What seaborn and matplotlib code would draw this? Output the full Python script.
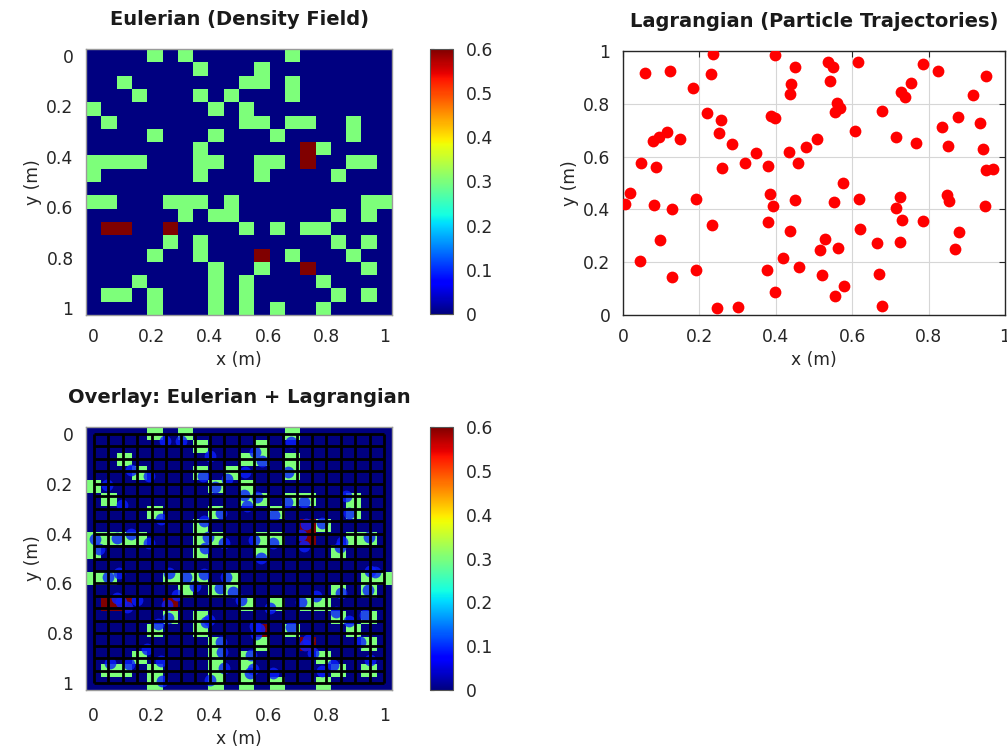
import numpy as np
import pandas as pd
import matplotlib
matplotlib.use("Agg")
import matplotlib.pyplot as plt
import seaborn as sns

# ---------------- data ----------------
# Eulerian density field (20 x 20 cells, rows = y from 0 (top) to 1, cols = x from 0 to 1)
density_rows = [
    [0, 0, 0, 0, .3, 0, .3, 0, 0, 0, 0, 0, 0, .3, 0, 0, 0, 0, 0, 0],
    [0, 0, 0, 0, 0, 0, 0, .3, 0, 0, 0, .3, 0, 0, 0, 0, 0, 0, 0, 0],
    [0, 0, .3, 0, 0, 0, 0, 0, 0, 0, .3, .3, 0, .3, 0, 0, 0, 0, 0, 0],
    [0, 0, 0, .3, 0, 0, 0, .3, 0, .3, 0, 0, 0, .3, 0, 0, 0, 0, 0, 0],
    [.3, 0, 0, 0, 0, 0, 0, 0, .3, 0, .3, 0, 0, 0, 0, 0, 0, 0, 0, 0],
    [0, .3, 0, 0, 0, 0, 0, 0, 0, 0, .3, .3, 0, .3, .3, 0, 0, .3, 0, 0],
    [0, 0, 0, 0, .3, 0, 0, 0, .3, 0, 0, 0, .3, 0, 0, 0, 0, .3, 0, 0],
    [0, 0, 0, 0, 0, 0, 0, .3, 0, 0, 0, 0, 0, 0, .6, .3, 0, 0, 0, 0],
    [.3, .3, .3, .3, 0, 0, 0, .3, .3, 0, 0, .3, .3, 0, .6, 0, 0, .3, .3, 0],
    [.3, 0, 0, 0, 0, 0, 0, .3, 0, 0, 0, .3, 0, 0, 0, 0, .3, 0, 0, 0],
    [0, 0, 0, 0, 0, 0, 0, 0, 0, 0, 0, 0, 0, 0, 0, 0, 0, 0, 0, 0],
    [.3, .3, 0, 0, 0, .3, .3, .3, 0, .3, 0, 0, 0, 0, 0, 0, 0, 0, .3, .3],
    [0, 0, 0, 0, 0, 0, .3, 0, .3, .3, 0, 0, 0, 0, 0, 0, .3, 0, .3, 0],
    [0, .6, .6, 0, 0, .6, 0, 0, 0, 0, .3, 0, .3, 0, .3, .3, 0, 0, 0, 0],
    [0, 0, 0, 0, 0, .3, 0, .3, 0, 0, 0, 0, 0, 0, 0, 0, .3, 0, .3, 0],
    [0, 0, 0, 0, .3, 0, 0, .3, 0, 0, 0, .6, 0, .3, 0, 0, 0, .3, 0, 0],
    [0, 0, 0, 0, 0, 0, 0, 0, .3, 0, 0, .3, 0, 0, .6, 0, 0, 0, .3, 0],
    [0, 0, 0, .3, 0, 0, 0, 0, .3, 0, .3, 0, 0, 0, 0, .3, 0, 0, 0, 0],
    [0, .3, .3, 0, .3, 0, 0, 0, .3, 0, .3, 0, 0, 0, 0, 0, .3, 0, .3, 0],
    [0, 0, 0, 0, .3, 0, 0, 0, .3, 0, .3, 0, .3, 0, 0, .3, 0, 0, 0, 0],
]

# Lagrangian particle positions (m)
particle_x = [0.236, 0.399, 0.057, 0.122, 0.230, 0.183, 0.450, 0.441, 0.437, 0.537,
              0.549, 0.616, 0.541, 0.559, 0.568, 0.555, 0.679, 0.786, 0.825, 0.949,
              0.755, 0.728, 0.738, 0.917, 0.221, 0.256, 0.387, 0.397, 0.251, 0.286,
              0.114, 0.094, 0.079, 0.148, 0.607, 0.714, 0.766, 0.878, 0.834, 0.934,
              0.850, 0.943, 0.347, 0.434, 0.480, 0.507, 0.457, 0.048, 0.087, 0.258,
              0.319, 0.380, 0.950, 0.968, 0.575, 0.019, 0.004, 0.081, 0.128, 0.190,
              0.384, 0.393, 0.450, 0.552, 0.618, 0.725, 0.714, 0.731, 0.786, 0.847,
              0.854, 0.948, 0.233, 0.380, 0.437, 0.620, 0.528, 0.517, 0.563, 0.666,
              0.725, 0.880, 0.869, 0.098, 0.045, 0.127, 0.192, 0.377, 0.419, 0.460,
              0.521, 0.399, 0.579, 0.555, 0.670, 0.245, 0.301, 0.679]
particle_y = [0.989, 0.985, 0.918, 0.924, 0.912, 0.861, 0.938, 0.874, 0.836, 0.960,
              0.941, 0.960, 0.888, 0.804, 0.783, 0.770, 0.773, 0.949, 0.926, 0.905,
              0.880, 0.846, 0.827, 0.833, 0.764, 0.739, 0.755, 0.747, 0.688, 0.648,
              0.694, 0.676, 0.660, 0.667, 0.698, 0.676, 0.650, 0.749, 0.713, 0.726,
              0.640, 0.628, 0.612, 0.619, 0.635, 0.665, 0.574, 0.574, 0.559, 0.558,
              0.574, 0.564, 0.549, 0.553, 0.499, 0.461, 0.420, 0.417, 0.402, 0.438,
              0.457, 0.414, 0.436, 0.427, 0.438, 0.448, 0.407, 0.360, 0.356, 0.455,
              0.433, 0.414, 0.341, 0.351, 0.319, 0.326, 0.288, 0.246, 0.253, 0.274,
              0.275, 0.316, 0.250, 0.284, 0.206, 0.145, 0.170, 0.170, 0.215, 0.181,
              0.152, 0.088, 0.110, 0.072, 0.154, 0.028, 0.029, 0.034]

axis_ticks = [0, 0.2, 0.4, 0.6, 0.8, 1]
axis_tick_labels = ["0", "0.2", "0.4", "0.6", "0.8", "1"]
cbar_ticks = [0, 0.1, 0.2, 0.3, 0.4, 0.5, 0.6]
cbar_tick_labels = ["0", "0.1", "0.2", "0.3", "0.4", "0.5", "0.6"]
grid_lines = [0, 0.05, 0.1, 0.15, 0.2, 0.25, 0.3, 0.35, 0.4, 0.45, 0.5,
              0.55, 0.6, 0.65, 0.7, 0.75, 0.8, 0.85, 0.9, 0.95, 1.0]

# ---------------- styling ----------------
sns.set_theme(style="white")
plt.rcParams["font.family"] = ["DejaVu Sans"]
TICK_FS = 12.3
TITLE_FS = 14
TXT = "#262626"

density = pd.DataFrame(density_rows)
ncell = density.shape[0]
span = ncell - 1


def to_cell(v):
    """map physical coordinate (0..1) to heatmap cell coordinate."""
    return np.asarray(v) * span + 0.5


fig = plt.figure(figsize=(10.07, 7.51), dpi=100)
W, H = 1007, 751


def box(l, t, r, b):
    return [l / W, 1 - b / H, (r - l) / W, (b - t) / H]


ax1 = fig.add_axes(box(86, 49, 392, 315))
cax1 = fig.add_axes(box(430, 49, 453, 314))
ax2 = fig.add_axes(box(623, 51, 1005, 315))
ax3 = fig.add_axes(box(86, 427, 392, 690))
cax2 = fig.add_axes(box(430, 427, 453, 690))


def style_heat(ax, cax, title, xpad=9):
    for s in ax.spines.values():
        s.set_visible(True)
        s.set_color("#9a9a9a")
        s.set_linewidth(1.0)
    ax.set_xticks(to_cell(axis_ticks))
    ax.set_xticklabels(axis_tick_labels, rotation=0)
    ax.set_yticks(to_cell(axis_ticks))
    ax.set_yticklabels(axis_tick_labels, rotation=0)
    ax.tick_params(direction="in", length=3, width=0.8, color="#333333",
                   top=True, right=True, bottom=True, left=True,
                   labelsize=TICK_FS, labelcolor=TXT, pad=9)
    ax.tick_params(axis="x", pad=xpad)
    ax.set_xlabel("x (m)", fontsize=TICK_FS, color=TXT, labelpad=4, visible=True)
    ax.set_ylabel("y (m)", fontsize=TICK_FS, color=TXT, labelpad=3, visible=True)
    ax.set_title(title, fontsize=TITLE_FS, fontweight="bold", color="#1a1a1a", pad=17)
    cax.tick_params(direction="in", length=3, width=0.8, color="#333333",
                    left=True, right=True, labelsize=TICK_FS, labelcolor=TXT, pad=9)
    cax.set_yticks(cbar_ticks)
    cax.set_yticklabels(cbar_tick_labels)
    cb = ax.collections[0].colorbar
    if cb is not None:
        cb.outline.set_edgecolor("#555555")
        cb.outline.set_linewidth(0.8)


# --- Eulerian heatmap ---
sns.heatmap(density, ax=ax1, cmap="jet", vmin=0, vmax=0.6, cbar_ax=cax1,
            cbar_kws={"ticks": cbar_ticks}, xticklabels=False, yticklabels=False)
style_heat(ax1, cax1, "Eulerian (Density Field)")

# --- Lagrangian scatter ---
pdf = pd.DataFrame({"x": particle_x, "y": particle_y})
sns.scatterplot(data=pdf, x="x", y="y", ax=ax2, color="#ff0000", s=72,
                linewidth=0, zorder=3)
ax2.set_xlim(0, 1)
ax2.set_ylim(0, 1)
ax2.set_xticks(axis_ticks)
ax2.set_xticklabels(axis_tick_labels)
ax2.set_yticks(axis_ticks)
ax2.set_yticklabels(axis_tick_labels)
ax2.grid(True, color="#d6d6d6", linewidth=0.8)
ax2.set_axisbelow(True)
for s in ax2.spines.values():
    s.set_visible(True)
    s.set_color("#262626")
    s.set_linewidth(1.0)
ax2.tick_params(direction="in", length=4, width=0.8, color="#262626",
                top=True, right=True, labelsize=TICK_FS, labelcolor=TXT, pad=9)
ax2.set_xlabel("x (m)", fontsize=TICK_FS, color=TXT, labelpad=4)
ax2.set_ylabel("y (m)", fontsize=TICK_FS, color=TXT, labelpad=3)
ax2.set_title("Lagrangian (Particle Trajectories)", fontsize=TITLE_FS,
              fontweight="bold", color="#1a1a1a", pad=17)

# --- Overlay ---
sns.heatmap(density, ax=ax3, cmap="jet", vmin=0, vmax=0.6, cbar_ax=cax2,
            cbar_kws={"ticks": cbar_ticks}, xticklabels=False, yticklabels=False)
sns.scatterplot(x=to_cell(particle_x), y=to_cell(particle_y), ax=ax3,
                color="#0a1eff", s=72, linewidth=0, alpha=0.8, zorder=3)
glp = to_cell(grid_lines)
ax3.vlines(glp, glp[0], glp[-1], colors="black", linewidth=2.0, zorder=4)
ax3.hlines(glp, glp[0], glp[-1], colors="black", linewidth=2.0, zorder=4)
ax3.set_xlim(0, ncell)
ax3.set_ylim(ncell, 0)
style_heat(ax3, cax2, "Overlay: Eulerian + Lagrangian", xpad=12)

fig.savefig("out.png", dpi=100)
